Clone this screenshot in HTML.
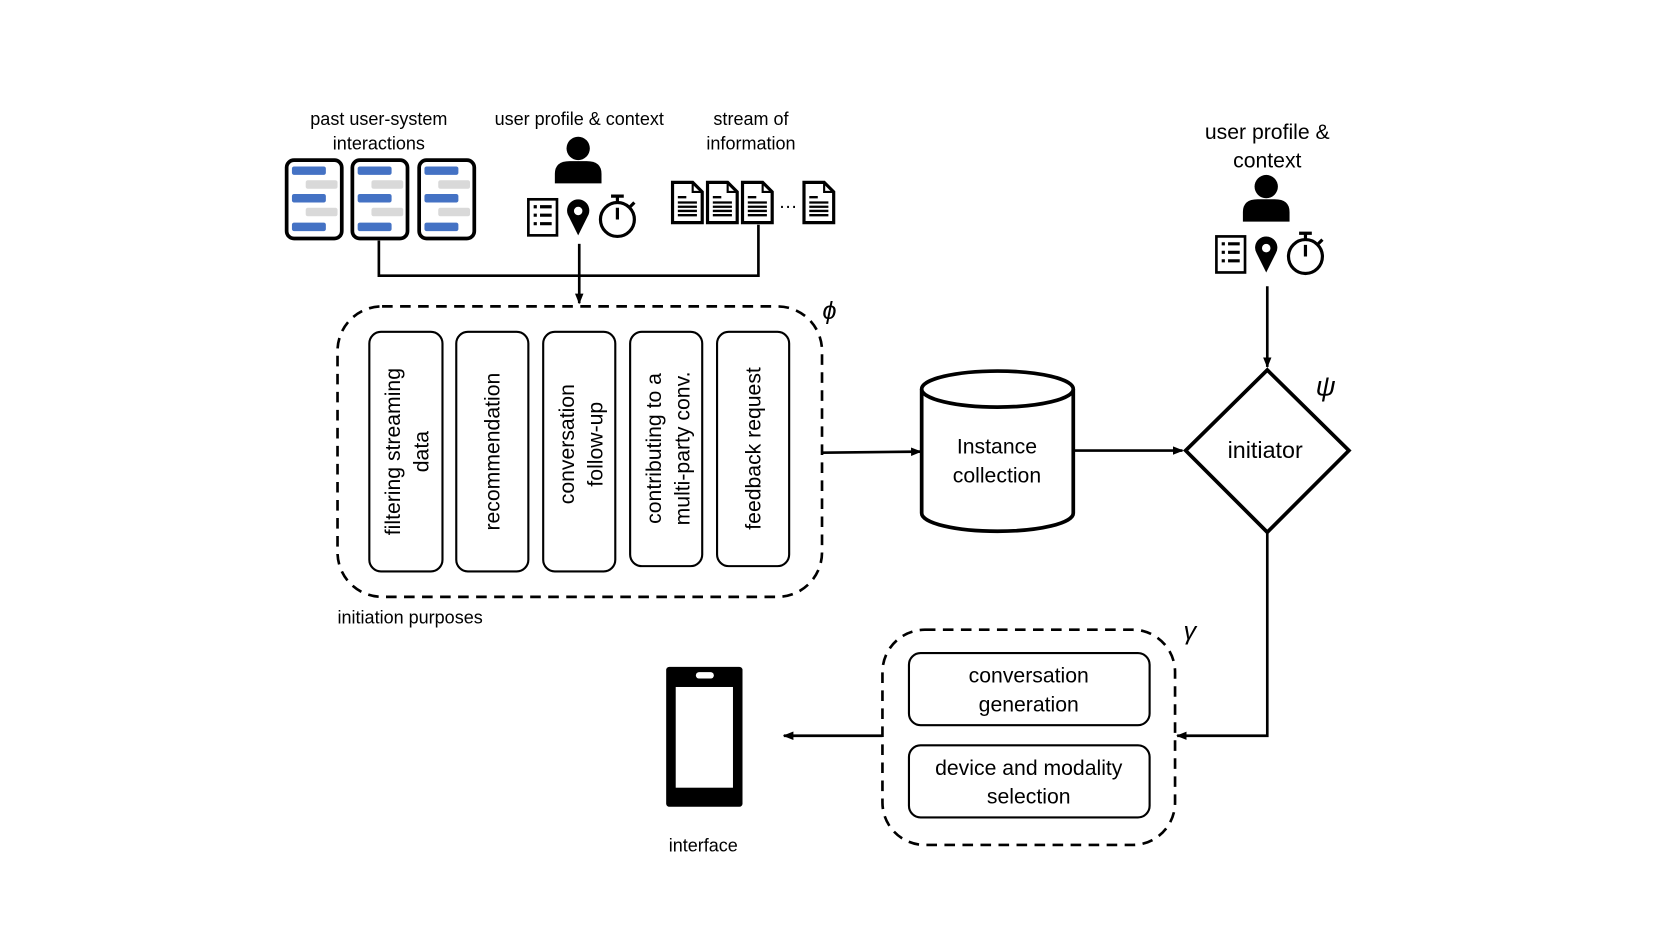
<!DOCTYPE html>
<html><head><meta charset="utf-8"><style>
html,body{margin:0;padding:0;background:#fff;}
svg{display:block}
text{font-family:"Liberation Sans",sans-serif;fill:#000}
</style></head><body>
<svg width="1661" height="934" viewBox="0 0 1566 881" xmlns="http://www.w3.org/2000/svg">
<defs>
<marker id="ar" markerWidth="10" markerHeight="10" refX="9" refY="5" orient="auto" markerUnits="userSpaceOnUse"><path d="M0,1 L10,5 L0,9 Z" fill="#000"/></marker>
<g id="chat">
<rect x="0" y="0" width="52" height="74" rx="7" fill="#fff" stroke="#000" stroke-width="3.5"/>
<rect x="5" y="6" width="32" height="8" rx="2" fill="#4472c4"/>
<rect x="18" y="19" width="30" height="8" rx="2" fill="#d9d9d9"/>
<rect x="5" y="32" width="32" height="8" rx="2" fill="#4472c4"/>
<rect x="18" y="45" width="30" height="8" rx="2" fill="#d9d9d9"/>
<rect x="5" y="59" width="32" height="8" rx="2" fill="#4472c4"/>
</g>
<g id="doc">
<path d="M0,0 H19 L28,9 V38 H0 Z" fill="#fff" stroke="#000" stroke-width="3"/>
<path d="M19,0 V9 H28" fill="none" stroke="#000" stroke-width="2"/>
<path d="M5,14 H13 M5,19 H23 M5,23 H23 M5,27 H23 M5,31 H23" stroke="#000" stroke-width="2.2"/>
</g>
<g id="person">
<circle cx="0" cy="0" r="11" fill="#000"/>
<path d="M-22,33 V24 Q-22,12 -8,12 H8 Q22,12 22,24 V33 Z" fill="#000"/>
</g>
<g id="icons">
<rect x="-47" y="0" width="27" height="34" fill="#fff" stroke="#000" stroke-width="2.5"/>
<path d="M-42,7 h3 M-42,15 h3 M-42,23 h3 M-36,7 h11 M-36,15 h11 M-36,23 h11" stroke="#000" stroke-width="3"/>
<path d="M0,34 L-9,16 A10.5,10.5 0 1 1 9,16 Z" fill="#000"/>
<circle cx="0" cy="11" r="4" fill="#fff"/>
<circle cx="37" cy="19" r="16" fill="none" stroke="#000" stroke-width="3"/>
<path d="M37,3 V-3 M31,-3 H43 M37,8 V19 M49,7 l4,-4" stroke="#000" stroke-width="3"/>
</g>
</defs>

<g font-size="17" text-anchor="middle">
<text x="357" y="118">past user-system</text>
<text x="357" y="141">interactions</text>
<text x="546" y="118">user profile &amp; context</text>
<text x="708" y="118">stream of</text>
<text x="708" y="141">information</text>
</g>
<use href="#chat" x="270" y="151"/>
<use href="#chat" x="332" y="151"/>
<use href="#chat" x="395" y="151"/>
<use href="#person" x="545" y="140"/>
<use href="#icons" x="545" y="188"/>
<use href="#doc" x="634" y="172"/>
<use href="#doc" x="667" y="172"/>
<use href="#doc" x="700" y="172"/>
<text x="743" y="196" font-size="18" text-anchor="middle">…</text>
<use href="#doc" x="758" y="172"/>

<path d="M357,227 V260 H715 V212" fill="none" stroke="#000" stroke-width="2.5"/>
<path d="M546,230 V286" fill="none" stroke="#000" stroke-width="2.5" marker-end="url(#ar)"/>

<rect x="318" y="289" width="457" height="274" rx="42" fill="none" stroke="#000" stroke-width="2.5" stroke-dasharray="10,7"/>
<text x="782" y="301" font-family="Liberation Serif" font-style="italic" font-size="24" text-anchor="middle">ϕ</text>
<g fill="#fff" stroke="#000" stroke-width="2">
<rect x="348" y="313" width="69" height="226" rx="11"/>
<rect x="430" y="313" width="68" height="226" rx="11"/>
<rect x="512" y="313" width="68" height="226" rx="11"/>
<rect x="594" y="313" width="68" height="221" rx="11"/>
<rect x="676" y="313" width="68" height="221" rx="11"/>
</g>
<g font-size="20" text-anchor="middle">
<text transform="translate(382,426) rotate(-90)"><tspan x="0" y="-5">filtering streaming</tspan><tspan x="0" y="22">data</tspan></text>
<text transform="translate(464,426) rotate(-90)"><tspan x="0" y="7">recommendation</tspan></text>
<text transform="translate(546,419) rotate(-90)"><tspan x="0" y="-5">conversation</tspan><tspan x="0" y="22">follow-up</tspan></text>
<text transform="translate(628,423) rotate(-90)"><tspan x="0" y="-5">contributing to a</tspan><tspan x="0" y="22">multi-party conv.</tspan></text>
<text transform="translate(710,423) rotate(-90)"><tspan x="0" y="7">feedback request</tspan></text>
</g>
<text x="318" y="588" font-size="17">initiation purposes</text>

<path d="M775,427 L868,426" stroke="#000" stroke-width="2.5" marker-end="url(#ar)"/>

<path d="M869,367 V484 A71,17 0 0 0 1012,484 V367" fill="#fff" stroke="#000" stroke-width="3.5"/>
<ellipse cx="940.5" cy="367" rx="71.5" ry="17" fill="#fff" stroke="#000" stroke-width="3.5"/>
<text x="940" y="428" font-size="20" text-anchor="middle">Instance</text>
<text x="940" y="455" font-size="20" text-anchor="middle">collection</text>

<path d="M1013,425 L1115,425" stroke="#000" stroke-width="2.5" marker-end="url(#ar)"/>

<path d="M1195,349 L1272,425 L1195,502 L1118,425 Z" fill="#fff" stroke="#000" stroke-width="3.5"/>
<text x="1193" y="432" font-size="22" text-anchor="middle">initiator</text>
<text x="1250" y="373" font-family="Liberation Serif" font-style="italic" font-size="26" text-anchor="middle">ψ</text>

<text x="1195" y="131" font-size="20" text-anchor="middle">user profile &amp;</text>
<text x="1195" y="158" font-size="20" text-anchor="middle">context</text>
<use href="#person" x="1194" y="176"/>
<use href="#icons" x="1194" y="223"/>
<path d="M1195,270 V346" stroke="#000" stroke-width="2.5" marker-end="url(#ar)"/>

<path d="M1195,502 V694 H1110" fill="none" stroke="#000" stroke-width="2.5" marker-end="url(#ar)"/>

<rect x="832" y="594" width="276" height="203" rx="40" fill="none" stroke="#000" stroke-width="2.5" stroke-dasharray="10,7"/>
<text x="1122" y="603" font-family="Liberation Serif" font-style="italic" font-size="24" text-anchor="middle">γ</text>
<rect x="857" y="616" width="227" height="68" rx="11" fill="#fff" stroke="#000" stroke-width="2"/>
<rect x="857" y="703" width="227" height="68" rx="11" fill="#fff" stroke="#000" stroke-width="2"/>
<g font-size="20" text-anchor="middle">
<text x="970" y="644">conversation</text>
<text x="970" y="671">generation</text>
<text x="970" y="731">device and modality</text>
<text x="970" y="758">selection</text>
</g>

<path d="M832,694 L739,694" stroke="#000" stroke-width="2.5" marker-end="url(#ar)"/>

<rect x="628" y="629" width="72" height="132" rx="3" fill="#000"/>
<rect x="637" y="648" width="54" height="95" fill="#fff"/>
<rect x="656" y="634" width="17" height="6" rx="3" fill="#fff"/>
<text x="663" y="803" font-size="17" text-anchor="middle">interface</text>
</svg>
</body></html>
